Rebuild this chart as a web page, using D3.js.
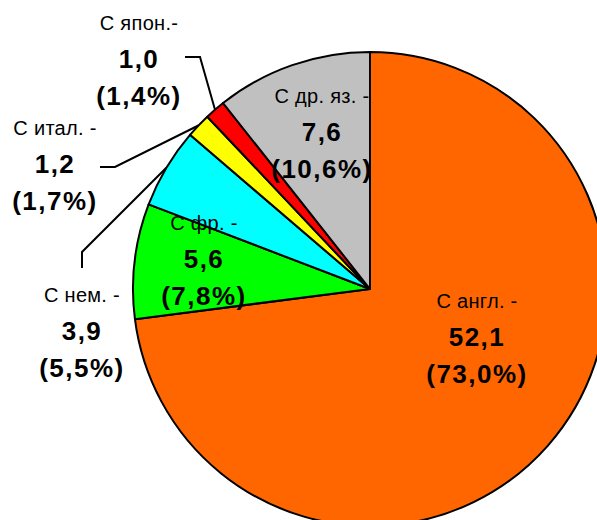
<!DOCTYPE html>
<html>
<head>
<meta charset="utf-8">
<script src="https://cdn.jsdelivr.net/npm/d3@7"></script>
<style>
	body { margin: 0; background: #fff; }
	svg { display: block; font-family: Arial, "Liberation Sans", sans-serif; }
</style>
</head>
<body>
<div id="graph"></div>
<script>
var	SVGwidth = 597,
	SVGheight = 520,
	cx = 370,
	cy = 289,
	radius = 237;

// data
var categories = ["С англ. -", "С фр. -", "С нем. -", "С итал. -", "С япон.-", "С др. яз. -"];
var values = [52.1, 5.6, 3.9, 1.2, 1.0, 7.6];
var colors = ["#ff6600", "#00ff00", "#00ffff", "#ffff00", "#ff0000", "#c0c0c0"];

// label layout: center x, baseline of first line
var labelPos = [[477, 308], [204, 230], [82, 302], [55, 135], [139, 30], [322, 103]];
// leader lines (elbow points) for the outside labels, null = none
var leaders = [null, null, [[82, 268], [82, 252]], [[100, 167], [115, 167]], [[185, 57], [200, 57]], null];

var svg = d3.select('div#graph')
	.append('svg')
	.attr('width', SVGwidth)
	.attr('height', SVGheight);

var total = d3.sum(values);
var fmt = function(v) { return v.toFixed(1).replace('.', ','); };

var pie = d3.pie().sort(null).value(function(d) { return d; });
var arc = d3.arc().innerRadius(0).outerRadius(radius);
var arcs = pie(values);

var g = svg.append('g').attr('transform', 'translate(' + cx + ',' + cy + ')');

g.selectAll('path')
	.data(arcs)
	.enter()
	.append('path')
	.attr('d', arc)
	.attr('fill', function(d, i) { return colors[i]; })
	.attr('stroke', '#000')
	.attr('stroke-width', 2)
	.attr('stroke-linejoin', 'round');

// leader lines end at the outer edge, mid angle of the slice
arcs.forEach(function(d, i) {
	if (!leaders[i]) return;
	var a = (d.startAngle + d.endAngle) / 2;
	var end = [cx + radius * Math.sin(a), cy - radius * Math.cos(a)];
	var pts = leaders[i].concat([end]);
	svg.append('path')
		.attr('d', d3.line()(pts))
		.attr('fill', 'none')
		.attr('stroke', '#000')
		.attr('stroke-width', 2);
});

// labels
var labels = svg.selectAll('text.lbl')
	.data(arcs)
	.enter()
	.append('text')
	.attr('class', 'lbl')
	.attr('text-anchor', 'middle')
	.attr('x', function(d, i) { return labelPos[i][0]; })
	.attr('y', function(d, i) { return labelPos[i][1]; });

labels.append('tspan')
	.attr('x', function(d, i) { return labelPos[i][0]; })
	.attr('font-size', 20)
	.attr('letter-spacing', 0.3)
	.text(function(d, i) { return categories[i]; });

labels.append('tspan')
	.attr('x', function(d, i) { return labelPos[i][0]; })
	.attr('dy', 38)
	.attr('font-size', 26)
	.attr('font-weight', 'bold')
	.attr('letter-spacing', 1.5)
	.text(function(d) { return fmt(d.value); });

labels.append('tspan')
	.attr('x', function(d, i) { return labelPos[i][0]; })
	.attr('dy', 37)
	.attr('font-size', 26)
	.attr('font-weight', 'bold')
	.attr('letter-spacing', 1.5)
	.text(function(d) { return '(' + fmt(d.value / total * 100) + '%)'; });
</script>
</body>
</html>
